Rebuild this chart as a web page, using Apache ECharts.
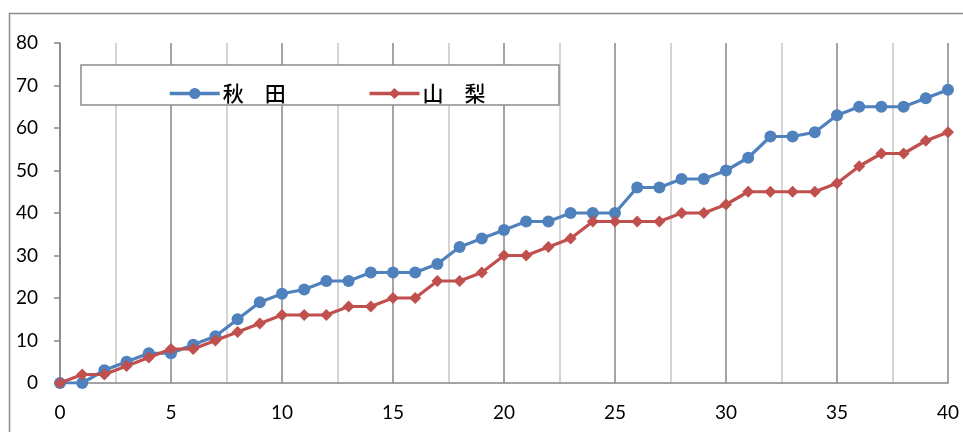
<!DOCTYPE html>
<html>
<head>
<meta charset="utf-8">
<script src="https://cdn.jsdelivr.net/npm/echarts@6/dist/echarts.min.js"></script>
<style>
html,body{margin:0;padding:0;background:#fff;}
#chart{width:963px;height:432px;}
</style>
</head>
<body>
<div id="chart"></div>
<script>
const xValues = [0,1,2,3,4,5,6,7,8,9,10,11,12,13,14,15,16,17,18,19,20,21,22,23,24,25,26,27,28,29,30,31,32,33,34,35,36,37,38,39,40];
const akita = [0,0,3,5,7,7,9,11,15,19,21,22,24,24,26,26,26,28,32,34,36,38,38,40,40,40,46,46,48,48,50,53,58,58,59,63,65,65,65,67,69];
const yamanashi = [0,2,2,4,6,8,8,10,12,14,16,16,16,18,18,20,20,24,24,26,30,30,32,34,38,38,38,38,40,40,42,45,45,45,45,47,51,54,54,57,59];
const seriesNames = ['秋　田','山　梨'];

const pair = (ys) => xValues.map((x,i)=>[x, ys[i]]);
const chart = echarts.init(document.getElementById('chart'), null, {renderer:'canvas'});
const labelFont = 'Lato, "Liberation Sans", sans-serif';
chart.setOption({
  animation:false,
  backgroundColor:'#ffffff',
  grid:{left:60,right:15,top:43,bottom:49,containLabel:false},
  xAxis:{
    type:'value',min:0,max:40,interval:5,
    axisLine:{show:true,lineStyle:{color:'#868686',width:1.5}},
    axisTick:{show:false},
    axisLabel:{color:'#000',fontSize:19,fontFamily:labelFont,margin:20},
    splitLine:{show:true,lineStyle:{color:'#868686',width:1.5}},
    minorTick:{show:false,splitNumber:2},
    minorSplitLine:{show:true,lineStyle:{color:'#c8c8c8',width:1.5}}
  },
  yAxis:{
    type:'value',min:0,max:80,interval:10,
    axisLine:{show:true,lineStyle:{color:'#868686',width:1.5}},
    axisTick:{show:true,inside:false,length:6,lineStyle:{color:'#868686',width:1.5}},
    axisLabel:{color:'#000',fontSize:19,fontFamily:labelFont,margin:22},
    splitLine:{show:false}
  },
  legend:{
    left:163, top:78,
    itemWidth:50, itemHeight:14, itemGap:82,
    lineStyle:{width:3.5},
    textStyle:{fontSize:21,fontWeight:500,color:'#000',fontFamily:'"Noto Sans CJK JP", sans-serif',padding:[0,0,0,-2]},
    data:seriesNames,
    z:5
  },
  graphic:[
    {type:'rect',z:3,shape:{x:81,y:65,width:478,height:40},style:{fill:'#fff',stroke:'#8c8c8c',lineWidth:1.5}},
    {type:'polyline',z:3,shape:{points:[[9.5,440],[9.5,13.5],[970,13.5]]},style:{fill:null,stroke:'#8c8c8c',lineWidth:1.5}}
  ],
  series:[
    {name:seriesNames[0],type:'line',data:pair(akita),symbol:'circle',symbolSize:12,
     lineStyle:{color:'#4F81BD',width:3.2},itemStyle:{color:'#4F81BD'},z:2},
    {name:seriesNames[1],type:'line',data:pair(yamanashi),symbol:'diamond',symbolSize:12,
     lineStyle:{color:'#C0504D',width:3.2},itemStyle:{color:'#C0504D'},z:3}
  ]
});
</script>
</body>
</html>
